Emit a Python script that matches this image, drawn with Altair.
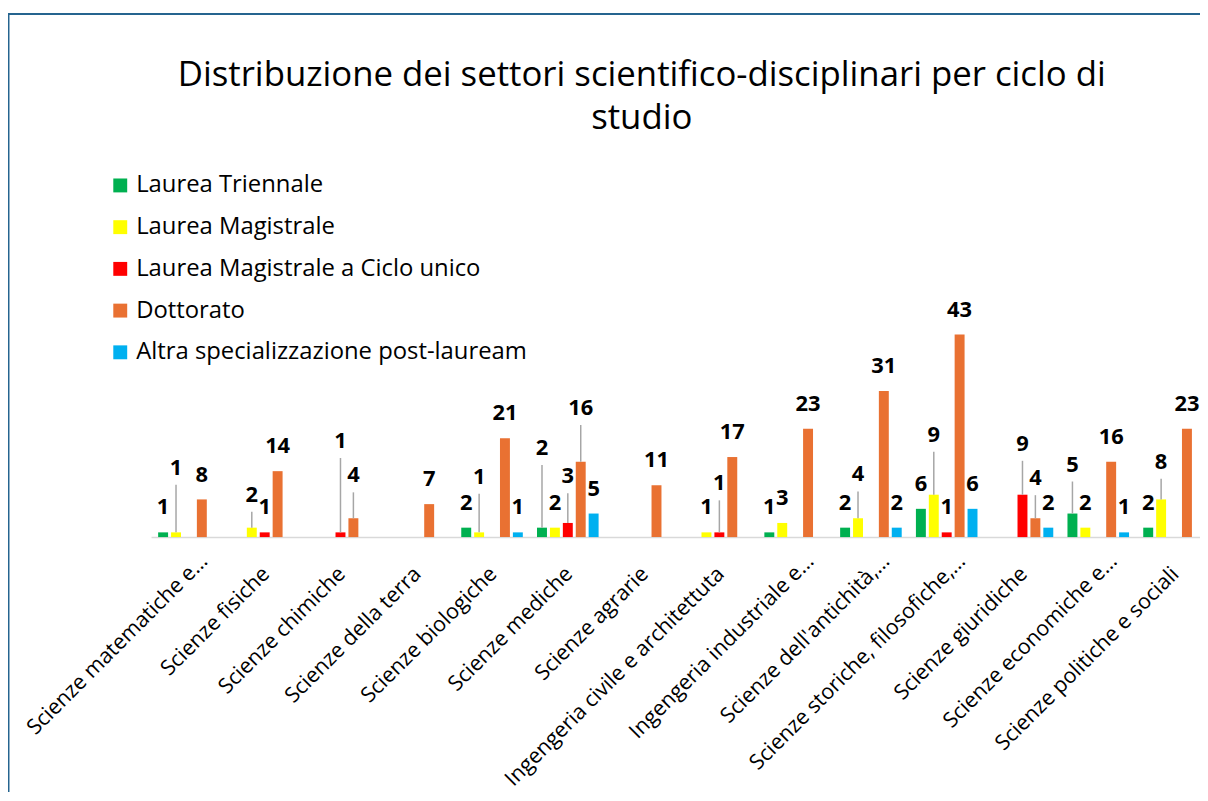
import altair as alt
import pandas as pd

categories = [
    "Scienze matematiche e…", "Scienze fisiche", "Scienze chimiche",
    "Scienze della terra", "Scienze biologiche", "Scienze mediche",
    "Scienze agrarie", "Ingengeria civile e architettuta",
    "Ingengeria industriale e…", "Scienze dell'antichità,…",
    "Scienze storiche, filosofiche,…", "Scienze giuridiche",
    "Scienze economiche e…", "Scienze politiche e sociali",
]
series = ["Laurea Triennale", "Laurea Magistrale",
          "Laurea Magistrale a Ciclo unico", "Dottorato",
          "Altra specializzazione post-lauream"]
colors = ["#00b050", "#ffff00", "#ff0000", "#e97132", "#00b0f0"]

laurea_triennale = [1, 0, 0, 0, 2, 2, 0, 0, 1, 2, 6, 0, 5, 2]
laurea_magistrale = [1, 2, 0, 0, 1, 2, 0, 1, 3, 4, 9, 0, 2, 8]
ciclo_unico = [0, 1, 1, 0, 0, 3, 0, 1, 0, 0, 1, 9, 0, 0]
dottorato = [8, 14, 4, 7, 21, 16, 11, 17, 23, 31, 43, 4, 16, 23]
altra = [0, 0, 0, 0, 1, 5, 0, 0, 0, 2, 6, 2, 1, 0]

# data labels moved up with a leader line (category index, series index, lift in value units)
leader_lifts = {
    (0, 1): 10.1, (1, 1): 3.4, (2, 2): 15.8, (2, 3): 5.5, (4, 1): 8.2,
    (5, 0): 13.3, (5, 2): 6.3, (5, 3): 7.8, (7, 2): 6.8, (9, 1): 5.7,
    (10, 1): 9.1, (11, 2): 7.2, (11, 3): 4.9, (12, 0): 6.8, (13, 1): 4.4,
}

values = [laurea_triennale, laurea_magistrale, ciclo_unico, dottorato, altra]
rows = []
for s_i, s in enumerate(series):
    for c_i, c in enumerate(categories):
        v = values[s_i][c_i]
        if v > 0:
            lift = leader_lifts.get((c_i, s_i), 0.0)
            rows.append({"cat": c, "serie": s, "value": v,
                         "lift": lift, "top": v + lift})
df = pd.DataFrame(rows)

FONT = "Open Sans"
truncated = "indexof(datum.value, '…') >= 0"
x_enc = alt.X("cat:N", sort=categories, title=None,
              scale=alt.Scale(range=[0, 1068], paddingInner=0, paddingOuter=0,
                              round=False),
              axis=alt.Axis(labelAngle=-45, labelFontSize=21.5, labelFont=FONT,
                            labelColor="#000000", labelAlign="right",
                            labelBaseline="top",
                            labelPadding=alt.condition(truncated, alt.value(13), alt.value(26)),
                            labelOffset=alt.condition(truncated, alt.value(8), alt.value(-6)),
                            ticks=False, domainColor="#d9d9d9",
                            domainWidth=1.5, labelOverlap=False,
                            labelLimit=400))
xo_enc = alt.XOffset("serie:N", sort=series,
                     scale=alt.Scale(domain=series, paddingInner=0.23,
                                     paddingOuter=0.55, round=False))
y_scale = alt.Scale(domain=[0, 50], nice=False)

base = alt.Chart(df)

bars = base.mark_bar().encode(
    x=x_enc, xOffset=xo_enc,
    y=alt.Y("value:Q", scale=y_scale, axis=None),
    color=alt.Color("serie:N", sort=series,
                    scale=alt.Scale(domain=series, range=colors),
                    legend=alt.Legend(orient="none", legendX=-43, legendY=-129,
                                      title=None, symbolType="square",
                                      symbolSize=196, symbolStrokeWidth=0,
                                      labelFontSize=24, labelFont=FONT,
                                      labelColor="#000000", rowPadding=18,
                                      labelOffset=4,
                                      labelLimit=600, direction="vertical")),
)

leaders = base.transform_filter("datum.lift > 0").mark_rule(
    color="#a6a6a6", strokeWidth=1.5).encode(
    x=x_enc, xOffset=xo_enc,
    y=alt.Y("value:Q", scale=y_scale, axis=None),
    y2="top:Q",
)

labels_plain = base.transform_filter("datum.lift == 0").mark_text(
    dy=-18, baseline="alphabetic", fontSize=22, fontWeight="bold",
    font=FONT, color="#000000").encode(
    x=x_enc, xOffset=xo_enc,
    y=alt.Y("value:Q", scale=y_scale, axis=None),
    text="value:Q",
)

labels_lead = base.transform_filter("datum.lift > 0").mark_text(
    dy=-10, baseline="alphabetic", fontSize=22, fontWeight="bold",
    font=FONT, color="#000000").encode(
    x=x_enc, xOffset=xo_enc,
    y=alt.Y("top:Q", scale=y_scale, axis=None),
    text="value:Q",
)

frame_data = alt.Data(values=[{"k": 1}])
frame_top = alt.Chart(frame_data).mark_rule(color="#25648f", strokeWidth=2).encode(
    x=alt.value(-145), x2=alt.value(1100), y=alt.value(-289.5))
frame_left = alt.Chart(frame_data).mark_rule(color="#25648f", strokeWidth=2).encode(
    x=alt.value(-143.5), y=alt.value(-290.5), y2=alt.value(520))

chart = alt.layer(frame_top, frame_left, bars, leaders, labels_plain, labels_lead).properties(
    width=1048, height=237,
    autosize=alt.AutoSizeParams(type="none"),
    padding={"left": 144, "top": 293, "right": 8, "bottom": 254},
    title=alt.Title(["Distribuzione dei settori scientifico-disciplinari per ciclo di",
                     "studio"],
                    fontSize=35, font=FONT, fontWeight="normal",
                    color="#000000", anchor="middle", dx=-30,
                    offset=0, dy=125, lineHeight=44),
).configure_view(strokeWidth=0)

chart.save("out.html", embed_options={"renderer": "svg", "actions": False})
